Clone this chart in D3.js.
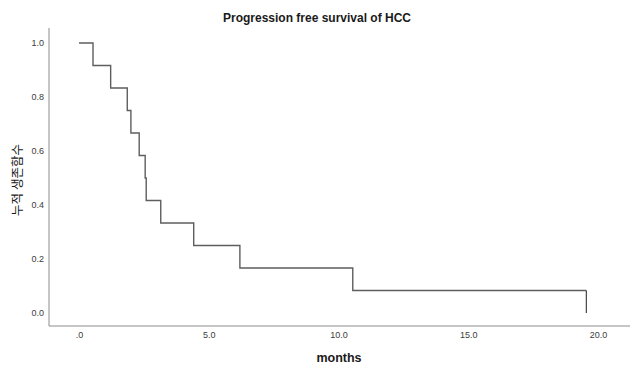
<!DOCTYPE html>
<html>
<head>
<meta charset="utf-8">
<script src="https://cdn.jsdelivr.net/npm/d3@7"></script>
<style>
  html, body { margin: 0; padding: 0; background: #fff; }
  svg { display: block; }
</style>
</head>
<body>
<svg id="chart" width="639" height="365"></svg>
<script>
// Kaplan–Meier progression-free survival (n = 12, all events)
const eventTimes = [0.54, 1.22, 1.86, 2.0, 2.32, 2.55, 2.59, 3.15, 4.42, 6.2, 10.55, 19.55];
const survival   = [11/12, 10/12, 9/12, 8/12, 7/12, 6/12, 5/12, 4/12, 3/12, 2/12, 1/12, 0];
const xTicks = [0, 5, 10, 15, 20];
const yTicks = [0, 0.2, 0.4, 0.6, 0.8, 1.0];
const titleText = "Progression free survival of HCC";
const xTitle = "months";
const yTitle = "누적 생존함수";

const svg = d3.select("#chart");
const frame = { left: 49, right: 630, top: 28, bottom: 326 };

const x = d3.scaleLinear().domain([0, 20]).range([79, 598]);
const y = d3.scaleLinear().domain([0, 1]).range([313, 43]);

const latin = "'Liberation Sans', Arial, sans-serif";

// axis frame (left and bottom lines only)
svg.append("line")
  .attr("x1", frame.left).attr("x2", frame.left)
  .attr("y1", frame.top).attr("y2", frame.bottom)
  .attr("stroke", "#8c8c8c").attr("stroke-width", 1);
svg.append("line")
  .attr("x1", frame.left).attr("x2", frame.right)
  .attr("y1", frame.bottom).attr("y2", frame.bottom)
  .attr("stroke", "#8c8c8c").attr("stroke-width", 1);

// axes without tick marks
const xAxis = d3.axisBottom(x).tickValues(xTicks).tickSize(0).tickPadding(0)
  .tickFormat(d => d === 0 ? ".0" : d3.format(".1f")(d));
const gx = svg.append("g").attr("transform", `translate(0,${frame.bottom + 6})`).call(xAxis);
gx.select(".domain").remove();
gx.selectAll("text").attr("font-family", latin).attr("font-size", 9).attr("fill", "#3c3c3c");

const yAxis = d3.axisLeft(y).tickValues(yTicks).tickSize(0).tickPadding(0)
  .tickFormat(d3.format(".1f"));
const gy = svg.append("g").attr("transform", `translate(${frame.left - 5},0)`).call(yAxis);
gy.select(".domain").remove();
gy.selectAll("text").attr("font-family", latin).attr("font-size", 9).attr("fill", "#3c3c3c");

// step curve built from the survival estimates
const pts = [[0, 1]];
eventTimes.forEach((t, i) => pts.push([t, survival[i]]));
const line = d3.line().x(d => x(d[0])).y(d => y(d[1])).curve(d3.curveStepAfter);

svg.append("path")
  .datum(pts.slice(0, pts.length - 1).concat([[eventTimes[eventTimes.length - 1], survival[survival.length - 2]]]))
  .attr("d", line)
  .attr("fill", "none")
  .attr("stroke", "#5e5e5e")
  .attr("stroke-width", 1.4);

// final drop to zero
const lastT = eventTimes[eventTimes.length - 1];
svg.append("line")
  .attr("x1", x(lastT)).attr("x2", x(lastT))
  .attr("y1", y(survival[survival.length - 2])).attr("y2", y(survival[survival.length - 1]))
  .attr("stroke", "#333").attr("stroke-width", 1.1);

// titles
svg.append("text")
  .attr("x", 317).attr("y", 22)
  .attr("text-anchor", "middle")
  .attr("font-family", latin).attr("font-weight", "bold").attr("font-size", 12)
  .attr("fill", "#1a1a1a")
  .text(titleText);

svg.append("text")
  .attr("x", 339).attr("y", 362)
  .attr("text-anchor", "middle")
  .attr("font-family", latin).attr("font-weight", "bold").attr("font-size", 12.5)
  .attr("fill", "#1a1a1a")
  .text(xTitle);

svg.append("text")
  .attr("transform", "translate(22,180) rotate(-90)")
  .attr("text-anchor", "middle")
  .attr("font-family", "'Noto Sans CJK KR', sans-serif").attr("font-size", 12.5)
  .attr("fill", "#1a1a1a")
  .text(yTitle);
</script>
</body>
</html>
